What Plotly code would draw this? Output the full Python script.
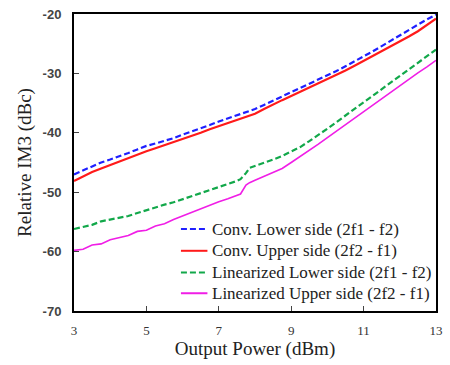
import plotly.graph_objects as go

x = [3, 3.25, 3.5, 3.75, 4, 4.25, 4.5, 4.75, 5, 5.25, 5.5, 5.75, 6, 6.25, 6.5, 6.75, 7, 7.25, 7.5,
     7.6, 7.75, 7.85, 8, 8.25, 8.5, 8.75, 9, 9.25, 9.5, 9.75, 10, 10.25, 10.5, 10.75, 11, 11.25,
     11.5, 11.75, 12, 12.25, 12.5, 12.75, 13]

conv_lower = [-47.0, -46.3, -45.7, -45.0, -44.5, -44.0, -43.4, -42.8, -42.2, -41.8, -41.4, -40.9,
              -40.3, -39.8, -39.2, -38.7, -38.1, -37.6, -37.1, -36.9, -36.6, -36.4, -36.0, -35.3,
              -34.6, -33.9, -33.2, -32.5, -31.8, -31.1, -30.4, -29.6, -28.8, -28.0, -27.2, -26.3,
              -25.4, -24.5, -23.5, -22.6, -21.7, -20.9, -20.1]
conv_upper = [-48.1, -47.3, -46.6, -46.0, -45.4, -44.9, -44.3, -43.6, -43.1, -42.6, -42.1, -41.6,
              -41.1, -40.6, -40.0, -39.4, -38.9, -38.4, -37.9, -37.7, -37.4, -37.2, -36.8, -36.0,
              -35.2, -34.5, -33.8, -33.1, -32.4, -31.7, -30.9, -30.2, -29.5, -28.7, -27.9, -27.1,
              -26.3, -25.5, -24.6, -23.8, -22.9, -21.9, -20.8]
lin_lower = [-56.2, -55.8, -55.5, -54.9, -54.6, -54.3, -54.0, -53.5, -53.0, -52.6, -52.1, -51.7,
             -51.2, -50.7, -50.2, -49.7, -49.2, -48.6, -48.1, -47.8, -46.8, -45.9, -45.6, -45.0,
             -44.5, -43.9, -43.2, -42.4, -41.4, -40.4, -39.3, -38.2, -37.1, -36.0, -34.9, -33.8,
             -32.7, -31.6, -30.5, -29.4, -28.3, -27.2, -26.0]
lin_upper = [-59.8, -59.6, -58.9, -58.7, -58.0, -57.6, -57.3, -56.6, -56.4, -55.7, -55.3, -54.6,
             -54.0, -53.4, -52.7, -52.1, -51.6, -51.1, -50.6, -50.3, -48.8, -48.4, -48.0, -47.3,
             -46.7, -46.0, -45.0, -44.0, -43.0, -41.9, -40.8, -39.7, -38.6, -37.5, -36.4, -35.3,
             -34.2, -33.1, -32.0, -31.0, -29.9, -28.9, -27.8]

names = ["Conv. Lower side (2f1 - f2)", "Conv. Upper side (2f2 - f1)",
         "Linearized Lower side (2f1 - f2)", "Linearized Upper side (2f2 - f1)"]
x_ticks = [3, 5, 7, 9, 11, 13]
y_ticks = [-70, -60, -50, -40, -30, -20]
y_ticktext = ["-70", "-60", "-50", "-40", "-30", "-20"]

serif = "Liberation Serif, Times New Roman, serif"
sans = "Liberation Sans, Arial, sans-serif"

series = [conv_lower, conv_upper, lin_lower, lin_upper]
styles = [dict(color="#1f1fff", width=2.2, dash="6px,3px"),
          dict(color="#ff1a1a", width=2.2, dash="solid"),
          dict(color="#12a84a", width=2.2, dash="6px,3px"),
          dict(color="#f01ee6", width=1.6, dash="solid")]

fig = go.Figure()
for name, ys, st in zip(names, series, styles):
    fig.add_trace(go.Scatter(x=x, y=ys, mode="lines", name=name, line=st, showlegend=False))

# manual legend (layout positions in paper coordinates)
leg_x0, leg_x1, leg_tx = 0.2954, 0.3686, 0.3767
leg_y = [0.2757, 0.2027, 0.1296, 0.0598]
for name, st, ly in zip(names, styles, leg_y):
    fig.add_shape(type="line", xref="paper", yref="paper", x0=leg_x0, x1=leg_x1, y0=ly, y1=ly,
                  line=dict(color=st["color"], width=2, dash=st["dash"]))
    fig.add_annotation(xref="paper", yref="paper", x=leg_tx, y=ly, text=name, showarrow=False,
                       xanchor="left", yanchor="middle",
                       font=dict(family=serif, size=17, color="#222"))

fig.update_layout(
    width=450, height=365,
    margin=dict(l=74, r=7, t=10, b=54),
    paper_bgcolor="white", plot_bgcolor="white",
    font=dict(family=serif, color="#222"),
    showlegend=False,
    xaxis=dict(range=[3, 13], tickvals=x_ticks, ticks="inside", ticklen=5, tickwidth=1,
               tickcolor="#444", showgrid=False, zeroline=False, showline=True,
               linecolor="black", linewidth=2, mirror=True, ticklabelstandoff=6,
               tickfont=dict(family=serif, size=13, color="#333"),
               title=dict(text="Output Power (dBm)", font=dict(family=serif, size=19, color="#222"),
                          standoff=4)),
    yaxis=dict(range=[-70, -20], tickvals=y_ticks, ticktext=y_ticktext, ticks="inside",
               ticklen=5, tickwidth=1,
               tickcolor="#444", showgrid=False, zeroline=False, showline=True,
               linecolor="black", linewidth=2, mirror=True, ticklabelstandoff=8,
               tickfont=dict(family=sans, size=13, color="#444", weight="bold"),
               title=dict(text="Relative IM3 (dBc)", font=dict(family=serif, size=19, color="#222"),
                          standoff=6)),
)

fig.write_html("out.html")
